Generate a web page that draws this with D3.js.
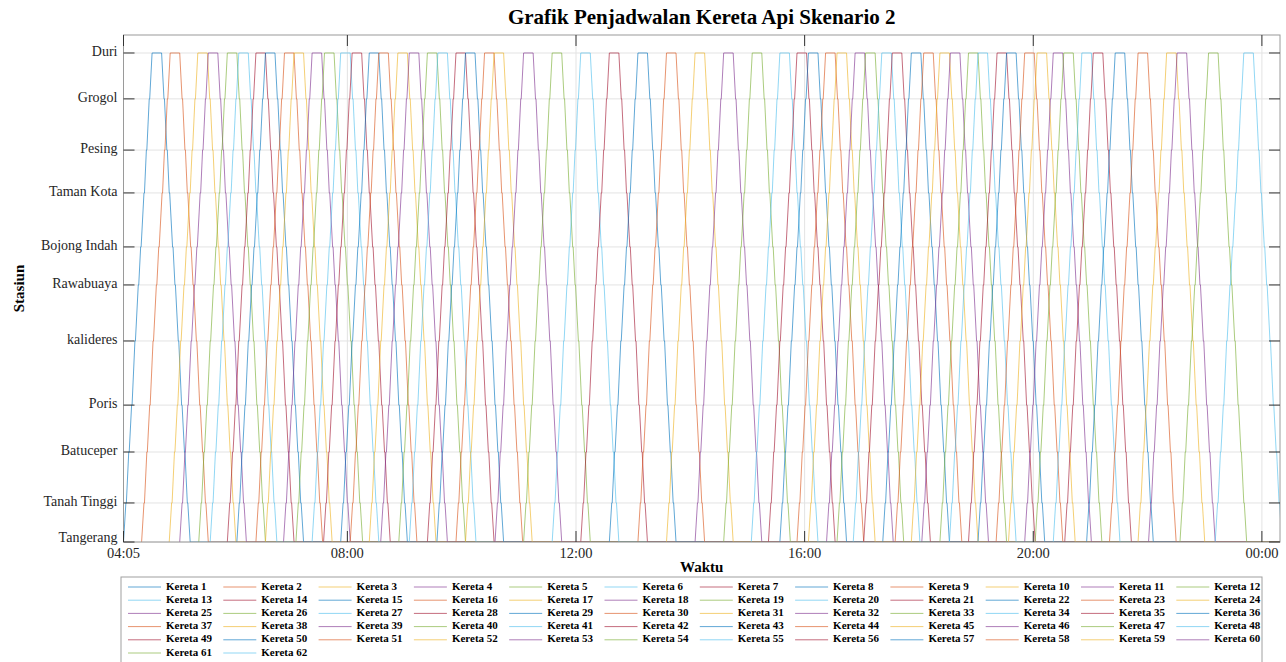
<!DOCTYPE html>
<html>
<head>
<meta charset="utf-8">
<script src="https://cdn.jsdelivr.net/npm/d3@7"></script>
<style>
  body { margin: 0; background: #fff; }
  text { font-family: "Liberation Serif", "Times New Roman", serif; }
</style>
</head>
<body>
<svg id="chart"></svg>
<script>
// stations from Tangerang (bottom) to Duri (top), distance in km
const stations = ["Tangerang", "Tanah Tinggi", "Batuceper", "Poris", "kalideres", "Rawabuaya",
  "Bojong Indah", "Taman Kota", "Pesing", "Grogol", "Duri"];
const stationKm = [0, 1.54, 3.55, 5.4, 7.93, 10.14, 11.64, 13.77, 15.46, 17.48, 19.29];

// minutes after leaving Tangerang when the train reaches each station
const runMinutes = [0, 2.5, 5.5, 8.5, 12, 15.5, 18, 21.5, 24, 27, 30];
const stopMinutes = 0.5;
const turnMinutes = 10; // layover at Duri

// departure from Tangerang, Kereta 1 .. Kereta 62
const departures = [
  "04:05", "04:24", "04:53", "05:04", "05:24", "05:36", "05:54", "06:04", "06:24", "06:34",
  "06:53", "07:06", "07:23", "07:35", "07:53", "08:03", "08:23", "08:35", "08:54", "09:05",
  "09:24", "09:34", "09:54", "10:04", "10:35", "11:05", "11:35", "12:05", "12:35", "13:05",
  "13:35", "14:05", "14:35", "15:04", "15:22", "15:34", "15:52", "16:04", "16:23", "16:34",
  "16:51", "17:02", "17:22", "17:35", "17:52", "18:03", "18:22", "18:32", "18:52", "19:02",
  "19:21", "19:34", "19:51", "20:02", "20:21", "20:33", "20:56", "21:20", "21:50", "22:01",
  "22:34", "23:11"
];

const timeTicks = ["04:05", "08:00", "12:00", "16:00", "20:00", "00:00"];
const timeStart = "04:05";
const timeEnd = "00:19";

const colors = ["#0072BD", "#D95319", "#EDB120", "#7E2F8E", "#77AC30", "#4DBEEE", "#A2142F"];

const width = 1286;
const height = 662;
const margin = {top: 35, right: 6, bottom: 120, left: 123.5};

const toMin = (s) => {
  const [h, m] = s.split(":").map(Number);
  const v = h * 60 + m;
  return v < 240 ? v + 1440 : v; // after midnight belongs to the same service day
};

const svg = d3.select("#chart").attr("width", width).attr("height", height);

const x = d3
  .scaleLinear()
  .domain([toMin(timeStart), toMin(timeEnd)])
  .range([margin.left, width - margin.right]);

const y = d3
  .scaleLinear()
  .domain([0, 20])
  .range([height - margin.bottom, margin.top]);

const x0 = margin.left;
const x1 = width - margin.right;
const y0 = height - margin.bottom;
const y1 = margin.top;

// grid
svg
  .selectAll(".hgrid")
  .data(stationKm)
  .enter()
  .append("line")
  .attr("x1", x0)
  .attr("x2", x1)
  .attr("y1", (d) => y(d))
  .attr("y2", (d) => y(d))
  .attr("stroke", "#e3e3e3")
  .attr("stroke-width", 1);

svg
  .selectAll(".vgrid")
  .data(timeTicks)
  .enter()
  .append("line")
  .attr("x1", (d) => x(toMin(d)))
  .attr("x2", (d) => x(toMin(d)))
  .attr("y1", y1)
  .attr("y2", y0)
  .attr("stroke", "#e3e3e3")
  .attr("stroke-width", 1);

// train paths
svg
  .append("defs")
  .append("clipPath")
  .attr("id", "plot-clip")
  .append("rect")
  .attr("x", x0)
  .attr("y", y1)
  .attr("width", x1 - x0)
  .attr("height", y0 - y1);

function trainPath(dep) {
  const pts = [[dep, 0]];
  const last = stations.length - 1;
  for (let i = 1; i < last; i++) {
    pts.push([dep + runMinutes[i], stationKm[i]]);
    pts.push([dep + runMinutes[i] + stopMinutes, stationKm[i]]);
  }
  pts.push([dep + runMinutes[last], stationKm[last]]);
  const back = dep + runMinutes[last] + turnMinutes;
  pts.push([back, stationKm[last]]);
  for (let i = last - 1; i > 0; i--) {
    pts.push([back + runMinutes[last] - runMinutes[i] - stopMinutes, stationKm[i]]);
    pts.push([back + runMinutes[last] - runMinutes[i], stationKm[i]]);
  }
  const home = back + runMinutes[last];
  pts.push([home, 0]);
  if (home < toMin(timeEnd)) pts.push([toMin(timeEnd), 0]);
  return pts;
}

const line = d3
  .line()
  .x((d) => x(d[0]))
  .y((d) => y(d[1]));

svg
  .append("g")
  .attr("clip-path", "url(#plot-clip)")
  .selectAll("path")
  .data(departures)
  .enter()
  .append("path")
  .attr("d", (d) => line(trainPath(toMin(d))))
  .attr("fill", "none")
  .attr("stroke", (d, i) => colors[i % colors.length])
  .attr("stroke-opacity", 0.62)
  .attr("stroke-width", 1);

// box and ticks
svg
  .append("rect")
  .attr("x", x0)
  .attr("y", y1)
  .attr("width", x1 - x0)
  .attr("height", y0 - y1)
  .attr("fill", "none")
  .attr("stroke", "#9a9a9a")
  .attr("stroke-width", 1);

const tickLen = 11;

stationKm.forEach((d) => {
  svg.append("line").attr("x1", x0).attr("x2", x0 + tickLen)
    .attr("y1", y(d)).attr("y2", y(d)).attr("stroke", "#333");
  svg.append("line").attr("x1", x1).attr("x2", x1 - tickLen)
    .attr("y1", y(d)).attr("y2", y(d)).attr("stroke", "#333");
});

timeTicks.forEach((d) => {
  svg.append("line").attr("x1", x(toMin(d))).attr("x2", x(toMin(d)))
    .attr("y1", y1).attr("y2", y1 + tickLen).attr("stroke", "#333");
  svg.append("line").attr("x1", x(toMin(d))).attr("x2", x(toMin(d)))
    .attr("y1", y0).attr("y2", y0 - tickLen).attr("stroke", "#333");
});

svg
  .selectAll(".station-label")
  .data(stations)
  .enter()
  .append("text")
  .attr("x", x0 - 6)
  .attr("y", (d, i) => y(stationKm[i]) - (i === 0 ? 3 : 0))
  .attr("text-anchor", "end")
  .attr("dominant-baseline", "middle")
  .attr("font-size", "14px")
  .attr("fill", "#262626")
  .text((d) => d);

svg
  .selectAll(".time-label")
  .data(timeTicks)
  .enter()
  .append("text")
  .attr("x", (d) => x(toMin(d)))
  .attr("y", y0 + 16)
  .attr("text-anchor", "middle")
  .attr("font-size", "14.5px")
  .attr("fill", "#262626")
  .text((d) => d);

svg
  .append("text")
  .attr("x", (x0 + x1) / 2)
  .attr("y", 24)
  .attr("text-anchor", "middle")
  .attr("font-size", "21px")
  .attr("font-weight", "bold")
  .attr("fill", "#000")
  .text("Grafik Penjadwalan Kereta Api Skenario 2");

svg
  .append("text")
  .attr("x", (x0 + x1) / 2)
  .attr("y", y0 + 30)
  .attr("text-anchor", "middle")
  .attr("font-size", "15px")
  .attr("font-weight", "bold")
  .attr("fill", "#000")
  .text("Waktu");

svg
  .append("text")
  .attr("transform", `translate(24,${(y0 + y1) / 2}) rotate(-90)`)
  .attr("text-anchor", "middle")
  .attr("font-size", "15px")
  .attr("font-weight", "bold")
  .attr("fill", "#000")
  .text("Stasiun");

// Legend
const legendCols = 12;
const legendX = 124;
const legendY = 577;
const colW = 95.3;
const rowH = 13.2;

svg
  .append("rect")
  .attr("x", legendX - 3)
  .attr("y", legendY)
  .attr("width", 1262 - legendX + 3)
  .attr("height", 100)
  .attr("fill", "#fff")
  .attr("stroke", "#a0a0a0")
  .attr("stroke-width", 1);

const legendItems = svg
  .selectAll(".legend-item")
  .data(departures)
  .enter()
  .append("g")
  .attr("transform", (d, i) =>
    `translate(${legendX + (i % legendCols) * colW},${legendY + 10 + Math.floor(i / legendCols) * rowH})`);

legendItems
  .append("line")
  .attr("x1", 4)
  .attr("x2", 37)
  .attr("stroke", (d, i) => colors[i % colors.length])
  .attr("stroke-opacity", 0.62)
  .attr("stroke-width", 1);

legendItems
  .append("text")
  .attr("x", 42)
  .attr("dominant-baseline", "middle")
  .attr("font-size", "11px")
  .attr("font-weight", "bold")
  .attr("fill", "#000")
  .text((d, i) => `Kereta ${i + 1}`);
</script>
</body>
</html>
